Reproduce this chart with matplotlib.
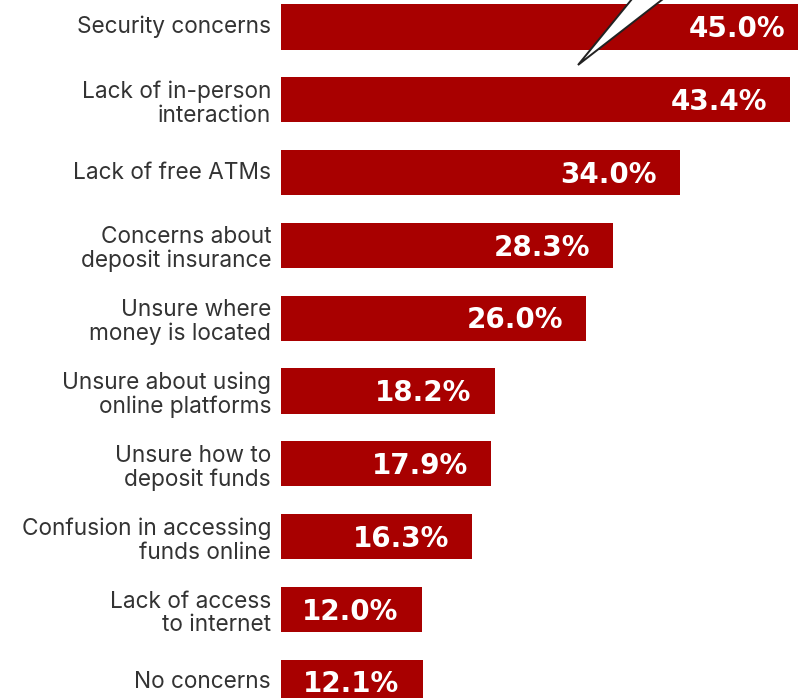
import numpy as np
import matplotlib.pyplot as plt
from matplotlib.patches import Polygon

categories = [
    "Security concerns",
    "Lack of in-person\ninteraction",
    "Lack of free ATMs",
    "Concerns about\ndeposit insurance",
    "Unsure where\nmoney is located",
    "Unsure about using\nonline platforms",
    "Unsure how to\ndeposit funds",
    "Confusion in accessing\nfunds online",
    "Lack of access\nto internet",
    "No concerns",
]
values = [45.0, 43.4, 34.0, 28.3, 26.0, 18.2, 17.9, 16.3, 12.0, 12.1]

bar_color = "#a80000"
label_color = "#333333"

fig = plt.figure(figsize=(7.98, 6.98), dpi=100)
ax = fig.add_axes([0, 0, 1, 1])

y = np.arange(len(values))
ax.barh(y, values, height=0.62, color=bar_color, left=0)

for yi, cat, v in zip(y, categories, values):
    # two-line labels sit a touch lower
    dy = 0.055 if "\n" in cat else 0.0
    ax.text(-0.85, yi + dy, cat, ha="right", va="center", fontsize=16.3,
            family="Inter", color=label_color, linespacing=1.08)
    ax.text(v - 2.0, yi + 0.03, f"{v:.1f}%", ha="right", va="center",
            fontsize=20, fontweight="bold", color="white", family="DejaVu Sans")

ax.set_xlim(-23.94, 44.04)
ax.set_ylim(9.217, -0.371)
ax.axis("off")

# speech-bubble tail over the top bar
tail = Polygon([(578, 698 - 65), (632, 698 + 1), (663, 698 + 1)],
               closed=True, facecolor="white", edgecolor="#222222",
               linewidth=1.4, transform=None, zorder=5)
fig.patches.append(tail)

fig.savefig("out.png", dpi=100)
